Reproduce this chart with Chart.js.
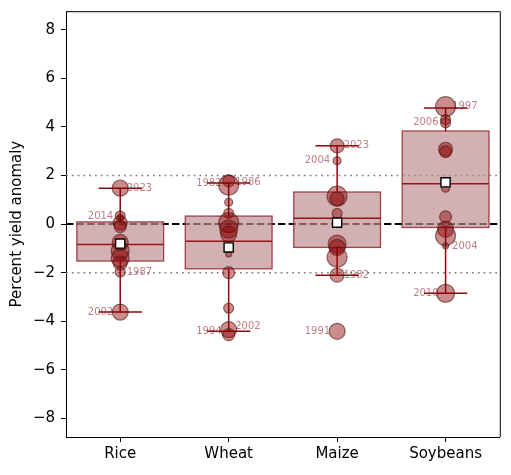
<!DOCTYPE html>
<html>
<head>
<meta charset="utf-8">
<script src="https://cdn.jsdelivr.net/npm/chart.js@4.4.1/dist/chart.umd.min.js"></script>
<style>
  html, body { margin: 0; padding: 0; background: #fff; }
  #wrap { width: 511px; height: 475px; }
</style>
</head>
<body>
<div id="wrap"><canvas id="yieldChart" width="511" height="475"></canvas></div>
<script>
// --- data ---
const categories = ['Rice', 'Wheat', 'Maize', 'Soybeans'];
const yTicks = [-8, -6, -4, -2, 0, 2, 4, 6, 8];

const boxQ1 = [-1.52, -1.84, -0.96, -0.14];
const boxQ3 = [0.09, 0.33, 1.32, 3.83];
const boxMedian = [-0.84, -0.71, 0.24, 1.66];
const boxMean = [-0.80, -0.96, 0.06, 1.72];
const whiskerLow = [-3.62, -4.41, -2.10, -2.85];
const whiskerHigh = [1.48, 1.69, 3.22, 4.78];

const riceValues = [1.48, 0.33, 0.28, 0.05, -0.10, -0.75, -1.10, -1.40, -1.60, -1.97, -3.62];
const riceSizes = [8, 5, 3, 7, 6, 8, 9, 9, 7, 5, 8];
const wheatValues = [1.78, 1.60, 0.90, 0.44, 0.06, -0.21, -0.41, -1.23, -2.00, -3.46, -4.34, -4.55];
const wheatSizes = [6, 10, 4, 5, 10, 9, 8, 3, 6, 5, 8, 6];
const maizeValues = [3.22, 2.61, 1.15, 1.04, 0.44, -0.82, -0.96, -1.36, -2.10, -4.41];
const maizeSizes = [7, 4, 10, 7, 5, 9, 8, 10, 7, 8];
const soyValues = [4.83, 4.30, 4.17, 3.08, 2.98, 1.48, 0.30, -0.21, -0.48, -0.89, -2.85];
const soySizes = [10, 5, 5, 7, 6, 4, 6, 8, 10, 3, 9];

const labelCrop = [0, 0, 0, 0, 1, 1, 1, 1, 2, 2, 2, 2, 3, 3, 3, 3];
const labelYears = ['2023', '2014', '1987', '2002', '1982', '1986', '1994', '2002',
                    '2023', '2004', '1982', '1991', '1997', '2006', '2004', '2010'];
const labelValues = [1.48, 0.33, -1.97, -3.62, 1.66, 1.72, -4.40, -4.22,
                     3.22, 2.61, -2.10, -4.41, 4.83, 4.17, -0.90, -2.85];
const labelSide = ['R', 'L', 'R', 'L', 'L', 'R', 'L', 'R', 'R', 'L', 'R', 'L', 'R', 'L', 'R', 'L'];

const cropValues = [riceValues, wheatValues, maizeValues, soyValues];
const cropSizes = [riceSizes, wheatSizes, maizeSizes, soySizes];

// --- styling ---
const FONT = 'DejaVu Sans';
const boxHalf = 0.4;
const capHalf = 0.2;

const boxPlugin = {
    id: 'boxes',
    beforeDatasetsDraw(chart) {
        const c = chart.ctx;
        const xs = chart.scales.x, ys = chart.scales.y;
        const area = chart.chartArea;
        c.save();
        c.beginPath();
        c.rect(area.left, area.top, area.right - area.left, area.bottom - area.top);
        c.clip();

        // reference lines
        c.lineWidth = 1.5;
        c.strokeStyle = '#808080';
        c.setLineDash([1.8, 4]);
        [-2, 2].forEach(v => {
            const y = ys.getPixelForValue(v);
            c.beginPath(); c.moveTo(area.left, y); c.lineTo(area.right, y); c.stroke();
        });
        c.lineWidth = 2;
        c.strokeStyle = '#000';
        c.setLineDash([7.4, 3.2]);
        const y0 = ys.getPixelForValue(0);
        c.beginPath(); c.moveTo(area.left, y0); c.lineTo(area.right, y0); c.stroke();
        c.setLineDash([]);

        categories.forEach((cat, i) => {
            const xl = xs.getPixelForValue(i - boxHalf);
            const xr = xs.getPixelForValue(i + boxHalf);
            const yt = ys.getPixelForValue(boxQ3[i]);
            const yb = ys.getPixelForValue(boxQ1[i]);
            c.fillStyle = 'rgba(190, 140, 143, 0.68)';
            c.fillRect(xl, yt, xr - xl, yb - yt);
            c.lineWidth = 1.3;
            c.strokeStyle = 'rgba(150, 50, 55, 0.9)';
            c.strokeRect(xl, yt, xr - xl, yb - yt);

            c.strokeStyle = 'rgba(150, 20, 25, 1)';
            c.lineWidth = 1.5;
            const ym = ys.getPixelForValue(boxMedian[i]);
            c.beginPath(); c.moveTo(xl, ym); c.lineTo(xr, ym); c.stroke();
        });

        // year labels
        c.font = '10px "' + FONT + '"';
        c.fillStyle = 'rgba(160, 70, 80, 0.7)';
        c.textBaseline = 'middle';
        labelYears.forEach((txt, k) => {
            const x = xs.getPixelForValue(labelCrop[k]);
            const y = ys.getPixelForValue(labelValues[k]);
            if (labelSide[k] === 'R') {
                c.textAlign = 'left';
                c.fillText(txt, x + 6.5, y);
            } else {
                c.textAlign = 'right';
                c.fillText(txt, x - 7, y);
            }
        });

        // whiskers
        c.strokeStyle = 'rgba(140, 10, 15, 1)';
        c.lineWidth = 1.5;
        categories.forEach((cat, i) => {
            const x = xs.getPixelForValue(i);
            const cl = xs.getPixelForValue(i - capHalf);
            const cr = xs.getPixelForValue(i + capHalf);
            const yh = ys.getPixelForValue(whiskerHigh[i]);
            const yl = ys.getPixelForValue(whiskerLow[i]);
            const yt = ys.getPixelForValue(boxQ3[i]);
            const yb = ys.getPixelForValue(boxQ1[i]);
            c.beginPath();
            c.moveTo(x, yt); c.lineTo(x, yh);
            c.moveTo(x, yb); c.lineTo(x, yl);
            c.moveTo(cl, yh); c.lineTo(cr, yh);
            c.moveTo(cl, yl); c.lineTo(cr, yl);
            c.stroke();
        });
        c.restore();
    },
    afterDraw(chart) {
        const c = chart.ctx, a = chart.chartArea, ys = chart.scales.y;
        c.save();
        // top and right spines
        c.strokeStyle = '#000';
        c.lineWidth = 1;
        c.beginPath();
        c.moveTo(a.left, a.top + 0.5); c.lineTo(a.right + 0.5, a.top + 0.5);
        c.lineTo(a.right + 0.5, a.bottom);
        c.stroke();
        // y tick labels (drawn here so they don't push the plot area down)
        c.font = '15px "' + FONT + '"';
        c.fillStyle = '#000';
        c.textAlign = 'right';
        c.textBaseline = 'middle';
        yTicks.forEach(v => {
            c.fillText(String(v).replace('-', '\u2212'), a.left - 11, ys.getPixelForValue(v));
        });
        c.restore();
    }
};

const pointSets = cropValues.map((vals, i) => ({
    label: categories[i],
    data: vals.map(v => ({ x: i, y: v })),
    pointRadius: cropSizes[i],
    pointBackgroundColor: 'rgba(139, 0, 0, 0.45)',
    pointBorderColor: 'rgba(80, 20, 20, 0.6)',
    pointBorderWidth: 1.2,
    order: 1
}));

const meanSet = {
    label: 'Mean',
    data: boxMean.map((v, i) => ({ x: i, y: v })),
    pointStyle: 'rect',
    pointRadius: 6.5,
    pointBackgroundColor: '#fff',
    pointBorderColor: '#000',
    pointBorderWidth: 1.4,
    order: 0
};

const ctx = document.getElementById('yieldChart').getContext('2d');
const yieldChart = new Chart(ctx, {
    type: 'scatter',
    data: { datasets: [meanSet, ...pointSets] },
    options: {
        responsive: false,
        animation: false,
        devicePixelRatio: 1,
        layout: { padding: { top: 6, right: 11, left: 0, bottom: 0 } },
        plugins: { legend: { display: false }, tooltip: { enabled: false } },
        scales: {
            x: {
                type: 'linear',
                min: -0.5,
                max: 3.5,
                afterBuildTicks: s => { s.ticks = categories.map((c, i) => ({ value: i })); },
                afterFit: s => { s.height = 38; },
                ticks: {
                    callback: v => categories[v],
                    color: '#000',
                    font: { family: FONT, size: 15 },
                    padding: 3
                },
                grid: { drawOnChartArea: false, tickLength: 5, color: '#000' },
                border: { color: '#000', width: 1 }
            },
            y: {
                min: -8.76,
                max: 8.76,
                afterBuildTicks: s => { s.ticks = yTicks.map(v => ({ value: v })); },
                afterFit: s => { s.width = 66; },
                ticks: { display: false },
                grid: { drawOnChartArea: false, tickLength: 5, color: '#000' },
                border: { color: '#000', width: 1 },
                title: {
                    display: true,
                    text: 'Percent yield anomaly',
                    color: '#000',
                    font: { family: FONT, size: 15 },
                    padding: { top: 8, bottom: 0 }
                }
            }
        }
    },
    plugins: [boxPlugin]
});
</script>
</body>
</html>
